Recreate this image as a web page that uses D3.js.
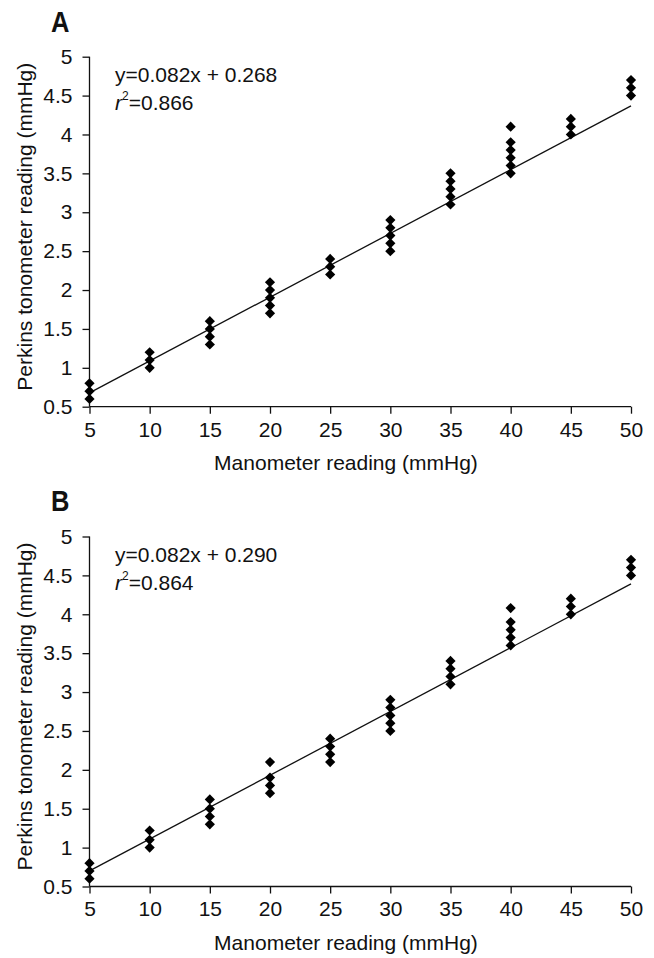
<!DOCTYPE html>
<html>
<head>
<meta charset="utf-8">
<script src="https://cdn.jsdelivr.net/npm/d3@7"></script>
<style>
  body { margin: 0; background: #fff; }
  svg text { font-family: "Liberation Sans", Arial, sans-serif; fill: #111; }
</style>
</head>
<body>
<div id="chart"></div>
<script>
// manometer settings (x) and Perkins readings (y) for each panel
const manometerA = [5,5,5, 10,10,10, 15,15,15,15, 20,20,20,20,20, 25,25,25, 30,30,30,30,30,
                    35,35,35,35,35, 40,40,40,40,40,40, 45,45,45, 50,50,50];
const perkinsA   = [0.6,0.7,0.8, 1.0,1.1,1.2, 1.3,1.4,1.5,1.6, 1.7,1.8,1.9,2.0,2.1, 2.2,2.3,2.4,
                    2.5,2.6,2.7,2.8,2.9, 3.1,3.2,3.3,3.4,3.5, 3.5,3.6,3.7,3.8,3.9,4.1, 4.0,4.1,4.2, 4.5,4.6,4.7];

const manometerB = [5,5,5, 10,10,10, 15,15,15,15, 20,20,20,20, 25,25,25,25, 30,30,30,30,30,
                    35,35,35,35, 40,40,40,40,40, 45,45,45, 50,50,50];
const perkinsB   = [0.6,0.7,0.8, 1.0,1.1,1.22, 1.3,1.4,1.5,1.62, 1.7,1.8,1.9,2.1, 2.1,2.2,2.3,2.4,
                    2.5,2.6,2.7,2.8,2.9, 3.1,3.2,3.3,3.4, 3.6,3.7,3.8,3.9,4.08, 4.0,4.1,4.2, 4.5,4.6,4.7];

const fitA = { slope: 0.082, intercept: 0.268, r2: "0.866" };
const fitB = { slope: 0.082, intercept: 0.290, r2: "0.864" };

const xTicks = [5,10,15,20,25,30,35,40,45,50];
const yTicks = [0.5,1,1.5,2,2.5,3,3.5,4,4.5,5];

const width = 654, height = 958;
const svg = d3.select("#chart").append("svg")
    .attr("width", width)
    .attr("height", height);

function drawPanel(label, top, xs, ys, fit) {
    const x = d3.scaleLinear().domain([5, 50]).range([89.5, 631]);
    const y = d3.scaleLinear().domain([0.5, 5]).range([top + 350, top]);
    const g = svg.append("g");

    // panel letter
    g.append("text")
        .attr("x", 51).attr("y", top - 25)
        .attr("font-size", "29px")
        .attr("font-weight", "bold")
        .attr("transform", `translate(51,0) scale(0.88,1) translate(-51,0)`)
        .text(label);

    // axes
    const xAxis = g.append("g")
        .attr("transform", `translate(0,${y(0.5)})`)
        .call(d3.axisBottom(x).tickValues(xTicks).tickSize(7).tickPadding(8).tickFormat(d3.format("d")));
    const yAxis = g.append("g")
        .attr("transform", `translate(${x(5)},0)`)
        .call(d3.axisLeft(y).tickValues(yTicks).tickSize(7).tickPadding(10).tickFormat(d => String(d)));
    [xAxis, yAxis].forEach(a => {
        a.select(".domain").attr("stroke", "#111").attr("stroke-width", 1.3);
        a.selectAll(".tick line").attr("stroke", "#111").attr("stroke-width", 1.3);
        a.selectAll(".tick text").attr("font-size", "21px").attr("fill", "#111")
            .style("font-family", "'Liberation Sans', Arial, sans-serif");
    });
    xAxis.select(".domain").attr("d", `M${x(5)},0H${x(50)}`);
    yAxis.select(".domain").attr("d", `M0,${y(0.5)}V${y(5)}`);

    // axis titles
    g.append("text")
        .attr("x", 346).attr("y", y(0.5) + 63)
        .attr("text-anchor", "middle")
        .attr("font-size", "21px")
        .text("Manometer reading (mmHg)");
    g.append("text")
        .attr("transform", `translate(32,${top + 170}) rotate(-90)`)
        .attr("text-anchor", "middle")
        .attr("font-size", "21px")
        .text("Perkins tonometer reading (mmHg)");

    // regression line
    g.append("line")
        .attr("x1", x(5)).attr("y1", y(fit.slope * 5 + fit.intercept))
        .attr("x2", x(50)).attr("y2", y(fit.slope * 50 + fit.intercept))
        .attr("stroke", "#111")
        .attr("stroke-width", 1.3);

    // points
    const diamond = d3.symbol().type(d3.symbolSquare).size(52);
    g.selectAll(".pt")
        .data(xs.map((v, i) => ({ x: v, y: ys[i] })))
        .enter()
        .append("path")
        .attr("class", "pt")
        .attr("d", diamond)
        .attr("transform", d => `translate(${x(d.x)},${y(d.y)}) rotate(45)`)
        .attr("fill", "#000");

    // equation
    const eq = g.append("text")
        .attr("x", 115).attr("y", top + 25)
        .attr("font-size", "21px");
    eq.text(`y=${fit.slope.toFixed(3)}x + ${fit.intercept.toFixed(3)}`);
    const r = g.append("text")
        .attr("x", 115).attr("y", top + 53)
        .attr("font-size", "21px");
    r.append("tspan").attr("font-style", "italic").text("r");
    r.append("tspan").attr("font-size", "12px").attr("dy", -10).text("2");
    r.append("tspan").attr("dy", 10).text(`=${fit.r2}`);
}

drawPanel("A", 56.7, manometerA, perkinsA, fitA);
drawPanel("B", 536.5, manometerB, perkinsB, fitB);
</script>
</body>
</html>
